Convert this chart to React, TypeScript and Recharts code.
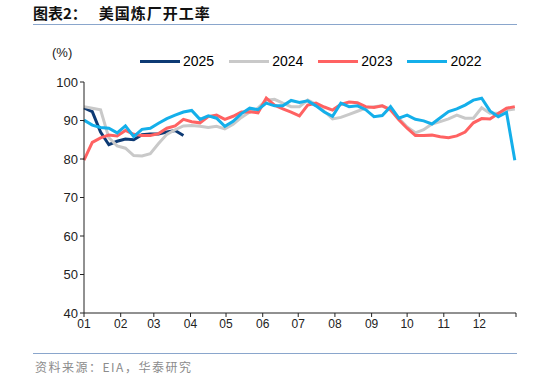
import React from "react";
import { LineChart, Line, XAxis, YAxis } from "recharts";

const monthLabels = ["01", "02", "03", "04", "05", "06", "07", "08", "09", "10", "11", "12", ""];
const monthStartDays = [0, 31, 59, 90, 120, 151, 181, 212, 243, 273, 304, 334, 365];
const yTicks = [40, 50, 60, 70, 80, 90, 100];

const v2025 = [93.3, 92.3, 87.0, 83.7, 84.6, 85.2, 85.0, 86.3, 86.5, 86.5, 87.0, 87.4, 86.1];
const v2024 = [
  93.6, 93.2, 92.8, 85.5, 83.4, 82.8, 80.9, 80.8, 81.4, 84.0, 86.4, 87.6, 88.6, 88.7,
  88.5, 88.2, 88.5, 87.8, 89.0, 90.8, 92.2, 93.2, 95.3, 95.5, 94.5, 93.6, 93.6, 95.3,
  94.2, 92.4, 90.4, 90.8, 91.6, 92.4, 93.2, 93.6, 93.8, 92.7, 90.6, 88.3, 86.8, 87.6,
  89.1, 89.7, 90.4, 91.4, 90.6, 90.6, 93.3, 91.9, 91.9, 92.7, 93.0,
];
const v2023 = [
  79.7, 84.3, 85.5, 86.2, 86.0, 87.4, 86.4, 86.1, 86.1, 86.6, 88.0, 88.6, 90.3, 89.7,
  89.4, 91.0, 91.4, 90.3, 91.1, 92.2, 92.3, 92.0, 95.8, 94.0, 93.0, 92.2, 91.2, 94.0,
  94.5, 93.5, 92.7, 94.2, 94.8, 94.6, 93.6, 93.4, 93.8, 92.8, 90.2, 88.0, 86.1, 86.1,
  86.2, 85.8, 85.5, 86.0, 87.0, 89.4, 90.5, 90.4, 91.8, 93.2, 93.6,
];
const v2022 = [
  90.1, 88.8, 88.2, 88.0, 86.8, 88.6, 85.8, 87.7, 88.0, 89.3, 90.5, 91.4, 92.2, 92.6,
  90.3, 91.2, 90.6, 88.5, 89.8, 91.8, 93.2, 92.8, 94.5, 93.8, 93.8, 95.2, 94.7, 95.1,
  93.8, 92.2, 91.1, 94.5, 93.6, 93.8, 92.8, 91.0, 91.3, 93.6, 90.6, 91.4, 90.3, 89.9,
  89.1, 90.7, 92.3, 93.0, 94.0, 95.3, 95.8, 92.5, 91.0, 92.1, 79.7,
];

const seriesMeta = [
  { key: "y2025", name: "2025", color: "#0D3A74" },
  { key: "y2024", name: "2024", color: "#C9C9C9" },
  { key: "y2023", name: "2023", color: "#FF6262" },
  { key: "y2022", name: "2022", color: "#14AFEA" },
];

const data = v2022.map((_, i) => ({
  day: i * 7,
  y2025: v2025[i],
  y2024: v2024[i],
  y2023: v2023[i],
  y2022: v2022[i],
}));

const FONT = "'Liberation Sans', Arial, sans-serif";

const LegendBlock = () => (
  <div style={{ position: "absolute", left: 140, top: 52, display: "flex", alignItems: "center", fontFamily: FONT, fontSize: 14, color: "#000", lineHeight: "18px" }}>
    {seriesMeta.map((s) => (
      <div key={s.key} style={{ display: "flex", alignItems: "center", marginRight: 15 }}>
        <div style={{ width: 40, height: 3, background: s.color, marginRight: 3 }} />
        <span>{s.name}</span>
      </div>
    ))}
  </div>
);

export default function App() {
  return (
    <div style={{ position: "absolute", left: 0, top: 0, width: 534, height: 378, background: "#fff", fontFamily: FONT }}>
      <div style={{ position: "absolute", left: 33, top: 4, fontSize: 15, fontWeight: "bold", color: "#111", fontFamily: "'Noto Sans CJK SC', sans-serif", whiteSpace: "nowrap", lineHeight: "18px" }}>
        图表2：<span style={{ marginLeft: 12, letterSpacing: 1 }}>美国炼厂开工率</span>
      </div>
      <div style={{ position: "absolute", left: 33, top: 24, width: 484, height: 1, background: "#8AA6CC" }} />
      <div style={{ position: "absolute", left: 52, top: 45, fontSize: 13, color: "#222" }}>(%)</div>
      <LineChart width={534} height={378} data={data} margin={{ top: 82, right: 18, bottom: 35, left: 40 }}>
        <XAxis
          dataKey="day"
          type="number"
          domain={[0, 365]}
          ticks={monthStartDays}
          tickFormatter={(d: number) => monthLabels[monthStartDays.indexOf(d)]}
          interval={0}
          height={30}
          axisLine={{ stroke: "#222" }}
          tickLine={{ stroke: "#222" }}
          tickSize={4}
          tick={{ fill: "#222", fontSize: 12, fontFamily: FONT }}
        />
        <YAxis
          domain={[40, 100]}
          ticks={yTicks}
          width={44}
          interval={0}
          axisLine={{ stroke: "#222" }}
          tickLine={{ stroke: "#222" }}
          tickSize={4}
          tick={{ fill: "#222", fontSize: 13, fontFamily: FONT }}
        />
        {seriesMeta.map((s) => (
          <Line
            key={s.key}
            dataKey={s.key}
            name={s.name}
            stroke={s.color}
            strokeWidth={3}
            dot={false}
            activeDot={false}
            isAnimationActive={false}
          />
        ))}
      </LineChart>
      <LegendBlock />
      <div style={{ position: "absolute", left: 33, top: 353, width: 484, height: 1, background: "#8AA6CC" }} />
      <div style={{ position: "absolute", left: 35, top: 358, fontSize: 12, color: "#8C8C8C", letterSpacing: 1.5, fontFamily: "'Noto Sans CJK SC', sans-serif", whiteSpace: "nowrap" }}>
        资料来源：EIA，华泰研究
      </div>
    </div>
  );
}
